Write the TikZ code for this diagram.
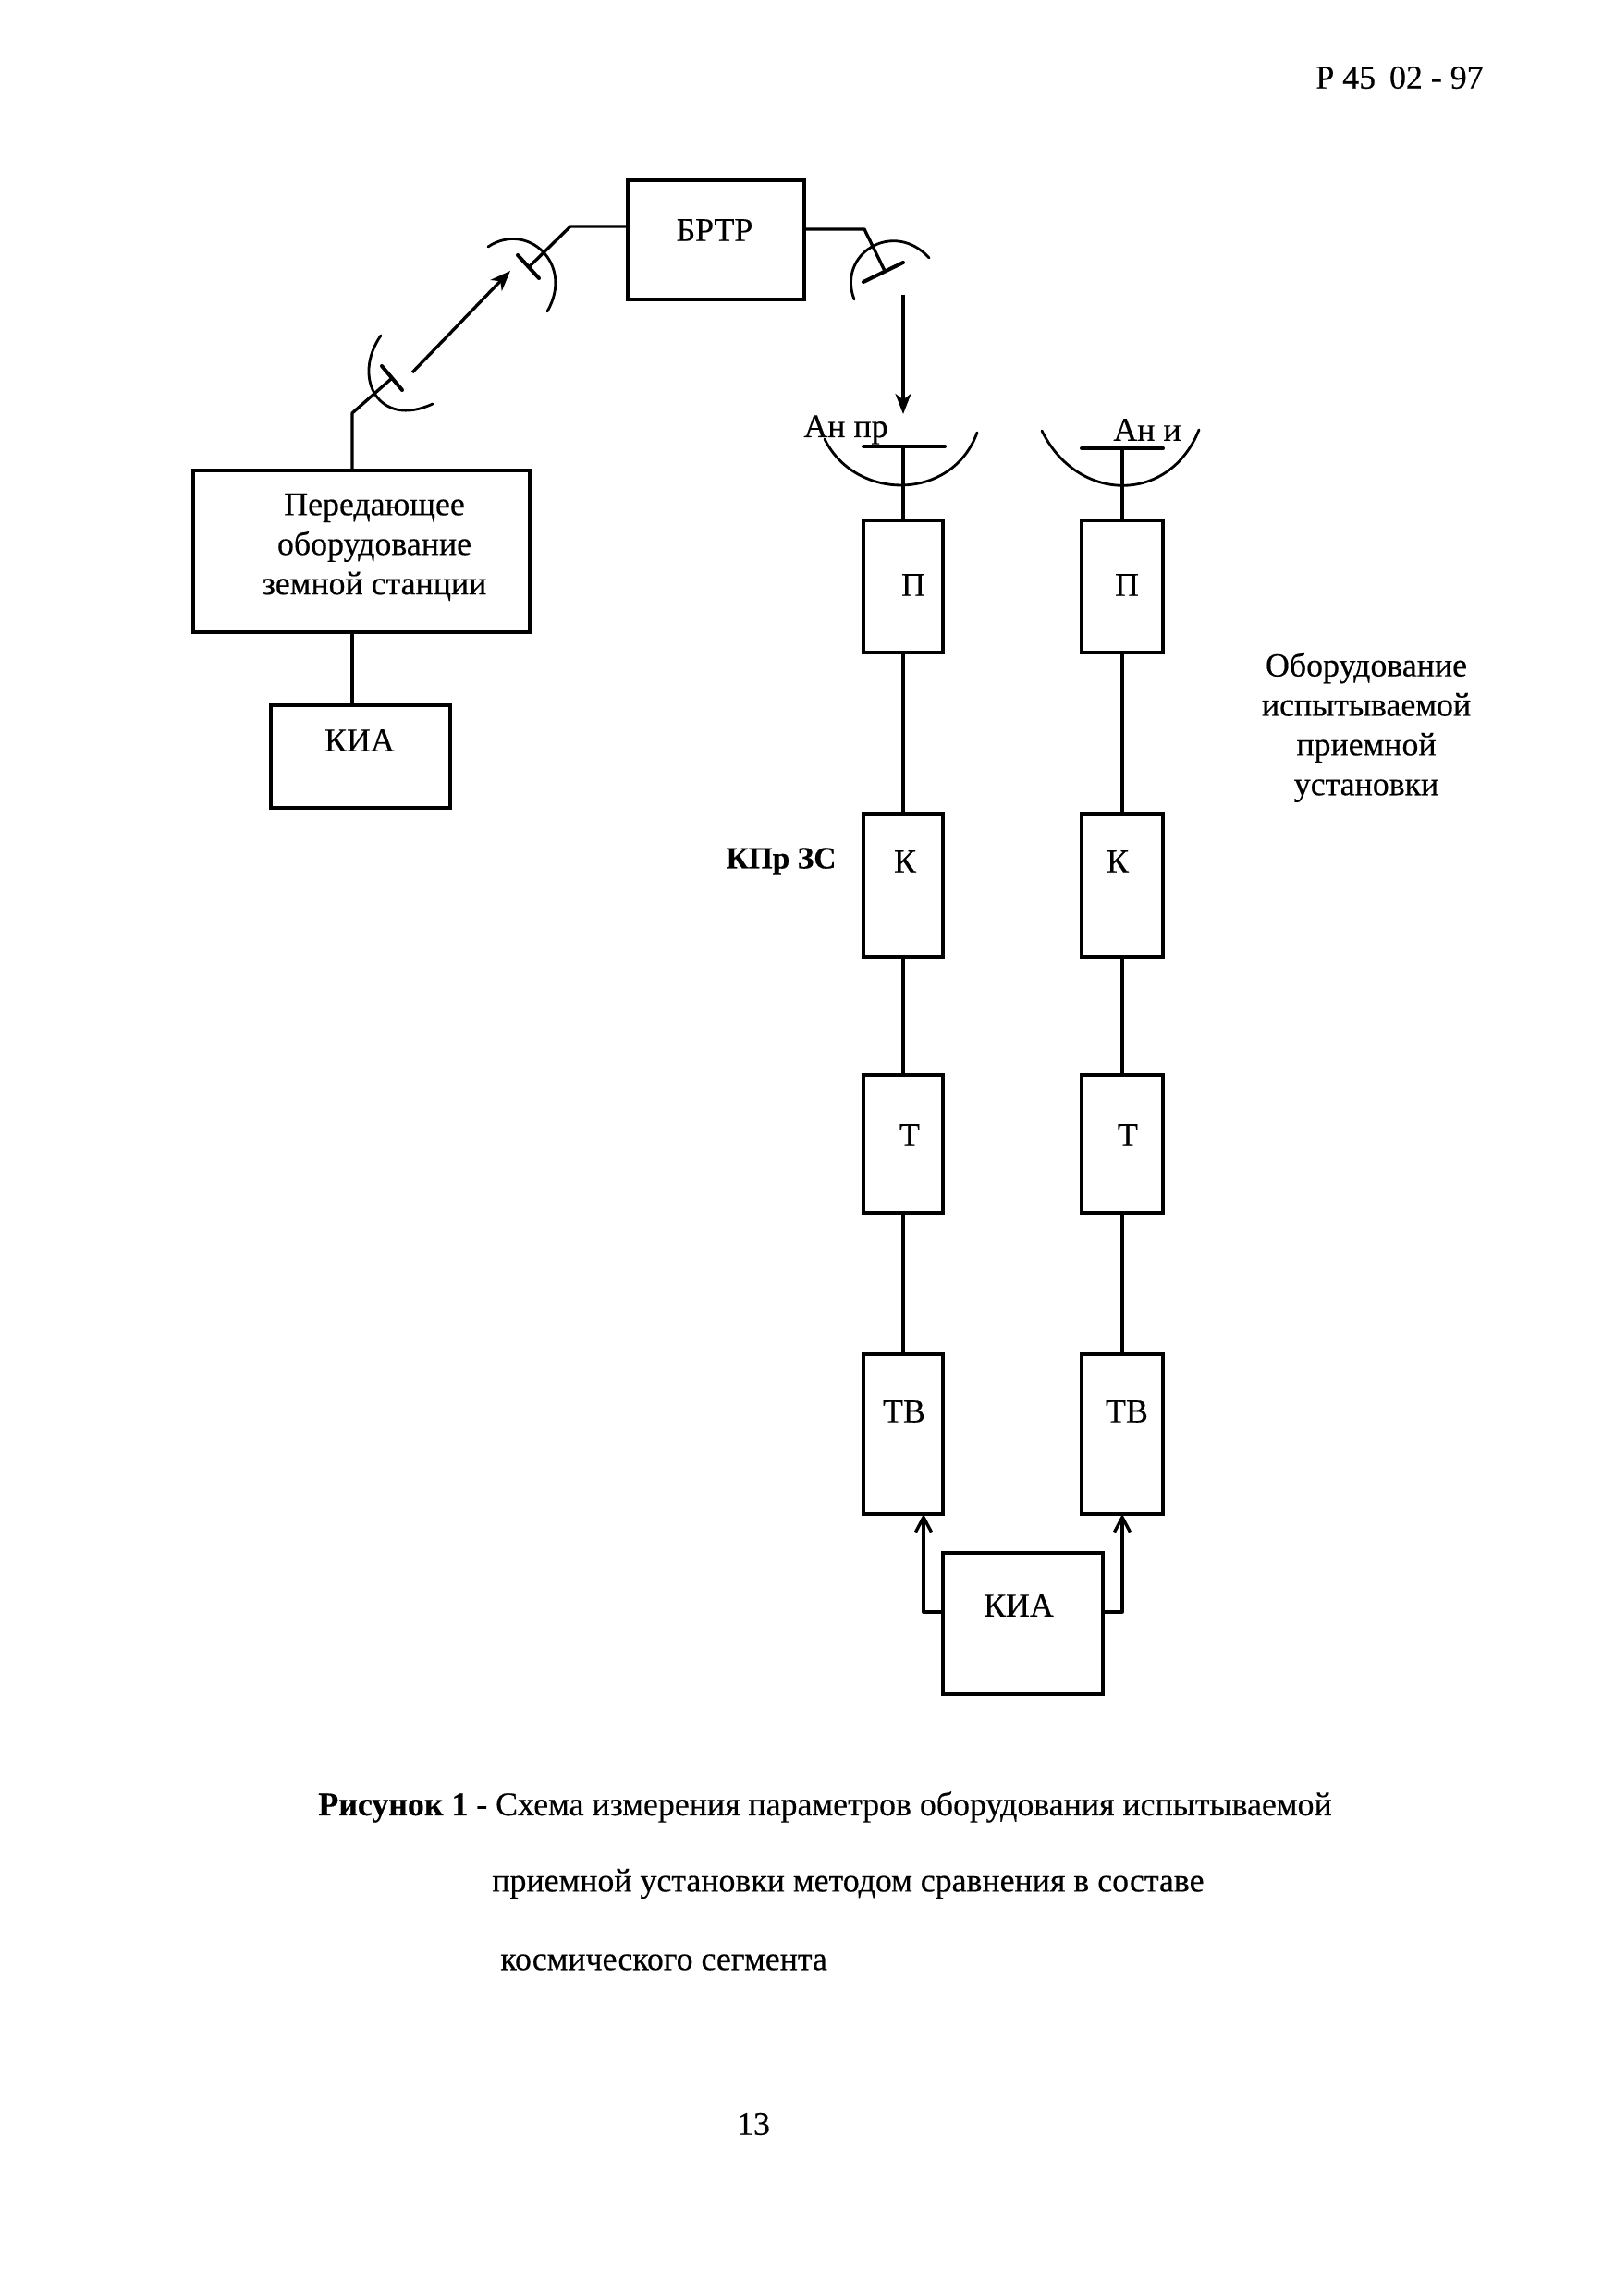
\documentclass[tikz,border=0pt]{standalone}
\usepackage{fontspec}
\setmainfont{Liberation Serif}[RawFeature={embolden=0.4}]
\usetikzlibrary{arrows.meta}
\usetikzlibrary{positioning}
\tikzset{blk/.style = {draw, rectangle, inner sep = 0, outer sep = 0, line width = 2.1pt}}
\tikzset{lbl/.style = {inner sep = 0, align = center, font = \fontsize{20.4}{24.4}\selectfont}}
\tikzset{wire/.style = {line width = 1.9pt, line join = round}}
\tikzset{bar/.style = {line width = 2.3pt, line cap = round}}
\tikzset{dish/.style = {line width = 1.6pt, line cap = round}}
\tikzset{beam/.style = {wire, -{Stealth[length = 0.44cm, width = 0.34cm, inset = 0.13cm]}}}
\tikzset{feedin/.style = {wire, -{Straight Barb[length = 0.32cm, width = 0.34cm]}}}
\begin{document}
\begin{tikzpicture}
          \useasboundingbox (0, 0) rectangle (34.92, 49.68);

          \node [blk, minimum width = 7.28cm, minimum height = 3.5cm] (tx) at (7.82, 37.75) {};
          \node [blk, minimum width = 3.88cm, minimum height = 2.22cm] (kiat) at (7.80, 33.31) {};
          \node [blk, minimum width = 3.82cm, minimum height = 2.58cm] (brtr) at (15.49, 44.49) {};

          \node [blk, minimum width = 1.72cm, minimum height = 2.86cm] (pa) at (19.54, 36.99) {};
          \node [blk, minimum width = 1.72cm, minimum height = 3.08cm] (ka) at (19.54, 30.52) {};
          \node [blk, minimum width = 1.72cm, minimum height = 2.98cm] (ta) at (19.54, 24.93) {};
          \node [blk, minimum width = 1.72cm, minimum height = 3.46cm] (tva) at (19.54, 18.65) {};

          \node [blk, minimum width = 1.76cm, minimum height = 2.86cm] (pb) at (24.28, 36.99) {};
          \node [blk, minimum width = 1.76cm, minimum height = 3.08cm] (kb) at (24.28, 30.52) {};
          \node [blk, minimum width = 1.76cm, minimum height = 2.98cm] (tb) at (24.28, 24.93) {};
          \node [blk, minimum width = 1.76cm, minimum height = 3.46cm] (tvb) at (24.28, 18.65) {};

          \node [blk, minimum width = 3.46cm, minimum height = 3.06cm] (kiab) at (22.13, 14.55) {};

          \node [lbl] (page) at (30.28, 48.00) {Р 45\, 02 - 97};
          \node [lbl] (txt) at (8.10, 37.84) {Передающее\\оборудование\\земной станции};
          \node [lbl] (kiatt) at (7.78, 33.66) {КИА};
          \node [lbl] (brtrt) at (15.46, 44.70) {БРТР};
          \node [lbl] (anpr) at (18.30, 40.38) {Ан пр};
          \node [lbl] (ani) at (24.82, 40.38) {Ан и};
          \node [lbl] (pat) at (19.76, 37.02) {П};
          \node [lbl] (pbt) at (24.38, 37.02) {П};
          \node [lbl] (kat) at (19.58, 31.04) {К};
          \node [lbl] (kbt) at (24.18, 31.04) {К};
          \node [lbl] (tat) at (19.68, 25.12) {Т};
          \node [lbl] (tbt) at (24.40, 25.12) {Т};
          \node [lbl] (tvat) at (19.56, 19.14) {ТВ};
          \node [lbl] (tvbt) at (24.38, 19.14) {ТВ};
          \node [lbl] (kiabt) at (22.04, 14.94) {КИА};
          \node [lbl, font = \fontsize{19}{24}\selectfont\bfseries] (kpr) at (16.90, 31.04) {КПр ЗС};
          \node [lbl] (equip) at (29.56, 33.94) {Оборудование\\испытываемой\\приемной\\установки};

          \node [lbl, anchor = west] (capa) at (6.88, 10.58) {\textbf{Рисунок 1} - Схема измерения параметров оборудования испытываемой};
          \node [lbl, anchor = west] (capb) at (10.64, 8.92) {приемной установки методом сравнения в составе};
          \node [lbl, anchor = west] (capc) at (10.82, 7.22) {космического сегмента};
          \node [lbl] (pnum) at (16.30, 3.72) {13};

          \coordinate (txout) at (7.62, 39.50);
          \coordinate (feeda) at (8.46, 41.48);
          \coordinate (feedb) at (11.46, 43.92);
          \coordinate (feedc) at (19.14, 43.82);
          \coordinate (brin) at (13.58, 44.78);
          \coordinate (brout) at (17.40, 44.72);
          \coordinate (beamas) at (8.92, 41.62);
          \coordinate (beamae) at (11.04, 43.82);
          \coordinate (beambs) at (19.54, 43.30);
          \coordinate (beambe) at (19.54, 40.72);
          \coordinate (stema) at (19.54, 40.02);
          \coordinate (stemb) at (24.28, 39.98);
          \coordinate (kiaw) at (20.40, 14.80);
          \coordinate (kiae) at (23.86, 14.80);
          \coordinate (tvain) at (19.98, 16.92);
          \coordinate (tvbin) at (24.28, 16.92);

          \draw [wire] (txout) -- (7.62, 40.74) -- (feeda);
          \draw [wire] (brin) -- (12.34, 44.78) -- (feedb);
          \draw [wire] (brout) -- (18.70, 44.72) -- (feedc);

          \draw [bar] (8.26, 41.76) -- (8.70, 41.24);
          \draw [bar] (11.20, 44.16) -- (11.66, 43.66);
          \draw [bar] (18.68, 43.58) -- (19.54, 44.00);
          \draw [bar] (18.68, 40.02) -- (20.44, 40.02);
          \draw [bar] (23.40, 39.98) -- (25.16, 39.98);

          \draw [dish] (8.24, 42.42) .. controls (7.60, 41.50) and (8.20, 40.40) .. (9.36, 40.94);
          \draw [dish] (10.56, 44.34) .. controls (11.40, 44.90) and (12.44, 43.98) .. (11.84, 42.94);
          \draw [dish] (18.48, 43.20) .. controls (18.10, 44.20) and (19.34, 44.94) .. (20.10, 44.10);
          \draw [dish] (17.84, 40.18) .. controls (18.50, 38.83) and (20.60, 38.82) .. (21.14, 40.32);
          \draw [dish] (22.54, 40.36) .. controls (23.30, 38.80) and (25.29, 38.75) .. (25.94, 40.38);

          \draw [beam] (beamas) -- (beamae);
          \draw [beam] (beambs) -- (beambe);

          \draw [wire] (stema) -- (pa);
          \draw [wire] (stemb) -- (pb);
          \draw [wire] (pa) -- (ka);
          \draw [wire] (ka) -- (ta);
          \draw [wire] (ta) -- (tva);
          \draw [wire] (pb) -- (kb);
          \draw [wire] (kb) -- (tb);
          \draw [wire] (tb) -- (tvb);
          \draw [wire] (tx.south -| txout) -- (kiat.north -| txout);

          \draw [feedin] (kiaw) -| (tvain);
          \draw [feedin] (kiae) -| (tvbin);
        \end{tikzpicture}
\end{document}
